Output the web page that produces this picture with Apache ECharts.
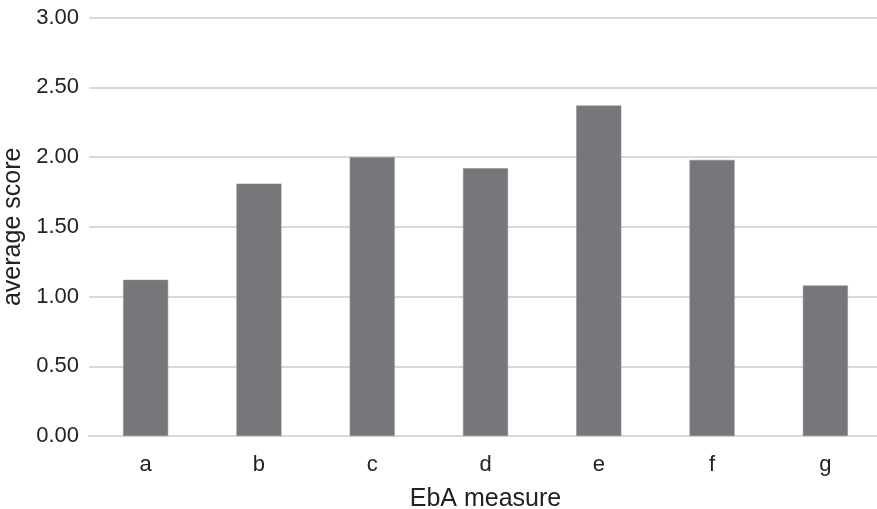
<!DOCTYPE html>
<html><head><meta charset="utf-8">
<script src="https://cdn.jsdelivr.net/npm/echarts@6/dist/echarts.min.js"></script>
<style>html,body{margin:0;padding:0;background:#fff}#c{width:877px;height:509px}</style>
</head><body><div id="c"></div>
<script>
const categories = ['a','b','c','d','e','f','g'];
const scores = [1.12, 1.81, 2.00, 1.92, 2.37, 1.98, 1.08];
const yTicks = {min: 0, max: 3, interval: 0.5};

const chart = echarts.init(document.getElementById('c'), null, {renderer: 'canvas'});
const font = 'Liberation Sans, Arial, sans-serif';
chart.setOption({
  animation: false,
  grid: {left: 89, top: 17.7, width: 793, height: 418.3, containLabel: false, outerBoundsMode: 'none'},
  xAxis: {
    type: 'category', data: categories,
    name: 'EbA measure', nameLocation: 'middle', nameGap: 51,
    nameTextStyle: {fontFamily: font, fontSize: 25, color: '#222'},
    axisLine: {show: true, lineStyle: {color: '#d9d9d9', width: 2}},
    axisTick: {show: false},
    axisLabel: {fontFamily: font, fontSize: 22, color: '#222', margin: 18}
  },
  yAxis: {
    type: 'value', min: yTicks.min, max: yTicks.max, interval: yTicks.interval,
    name: 'average score', nameLocation: 'middle', nameGap: 58,
    nameTextStyle: {fontFamily: font, fontSize: 25, color: '#222'},
    axisLine: {show: false}, axisTick: {show: false},
    axisLabel: {fontFamily: font, fontSize: 22, color: '#222', margin: 10,
      formatter: v => v.toFixed(2)},
    splitLine: {lineStyle: {color: '#d9d9d9', width: 2}}
  },
  series: [{
    type: 'bar', data: scores, barWidth: 45,
    itemStyle: {color: '#76777a', borderColor: '#8a8b8e', borderWidth: 0.5}
  }]
});
</script></body></html>
